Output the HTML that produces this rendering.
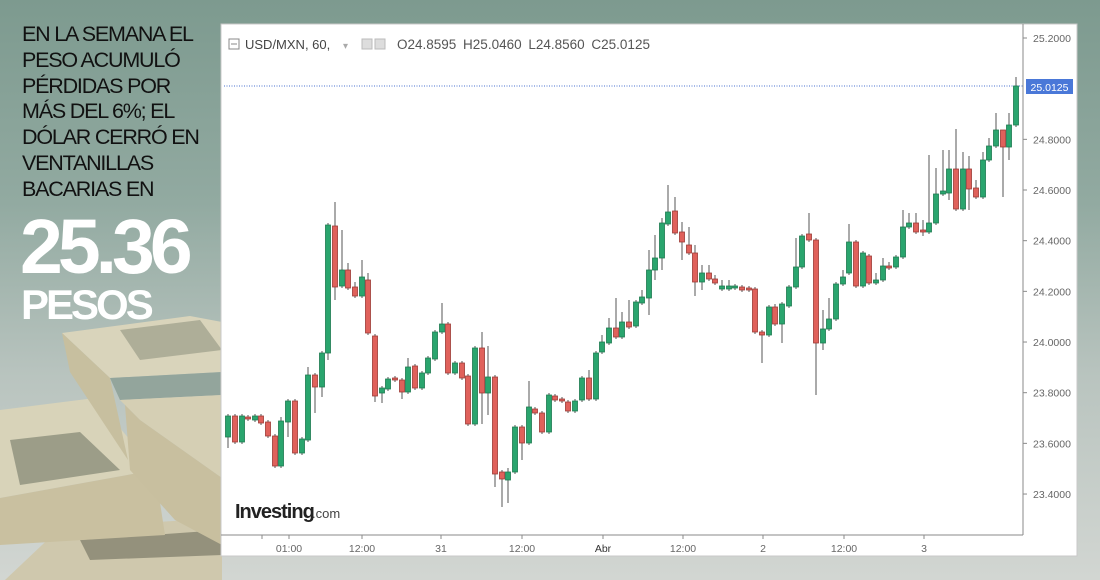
<!DOCTYPE html>
<html><head><meta charset="utf-8"><style>
html,body{margin:0;padding:0;}
body{width:1100px;height:580px;overflow:hidden;position:relative;background:linear-gradient(180deg,#7d9a8f 0%,#92aaa1 35%,#b9c4bf 65%,#d2d6d2 100%);font-family:"Liberation Sans",sans-serif;}
.txt{position:absolute;left:22px;top:22px;color:#111;font-size:21.5px;line-height:25.8px;letter-spacing:-1.2px;}
.big{position:absolute;left:20px;top:207px;color:#fff;font-weight:bold;font-size:77px;letter-spacing:-5px;line-height:80px;}
.pes{position:absolute;left:21px;top:283px;color:#fff;font-weight:bold;font-size:42px;letter-spacing:-3px;line-height:44px;}
svg{position:absolute;left:0;top:0;}
</style></head><body>
<svg width="1100" height="580">
 <polygon points="5,580 60,528 222,518 222,580" fill="#cfc8ad"/>
 <polygon points="80,540 222,530 222,555 90,560" fill="#6d6c5c" opacity="0.6"/>
 <polygon points="0,410 95,398 155,470 0,498" fill="#d8d3b9"/>
 <polygon points="0,498 155,470 165,535 0,545" fill="#c9c0a0"/>
 <polygon points="10,440 80,432 120,470 20,485" fill="#5f6858" opacity="0.5"/>
 <polygon points="62,333 190,316 222,322 222,372 110,378" fill="#d9d4bb"/>
 <polygon points="62,333 110,378 128,460 70,372" fill="#c7bf9f"/>
 <polygon points="110,378 222,372 222,395 120,400" fill="#93a59c"/>
 <polygon points="120,400 222,395 222,478 140,420" fill="#d5cfb4"/>
 <polygon points="125,405 140,420 222,478 222,545 175,520 130,470" fill="#c8bf9f"/>
 <polygon points="120,330 200,320 222,350 140,360" fill="#5f6858" opacity="0.35"/>
 <rect x="221" y="24" width="856" height="532" fill="#fff" stroke="#c8c8c8"/>
 <line x1="1023" y1="24" x2="1023" y2="535" stroke="#8a8a8a"/>
 <line x1="221" y1="535" x2="1023" y2="535" stroke="#8a8a8a"/>
 <line x1="224" y1="86" x2="1023" y2="86" stroke="#4a72d0" stroke-dasharray="1,1.5"/>
 <rect x="1026" y="79" width="47" height="15" fill="#4a78d8"/>
 <text x="1049.5" y="91" font-size="10.5" fill="#fff" text-anchor="middle" font-family="Liberation Sans">25.0125</text>
 <g font-size="10.5" fill="#666" font-family="Liberation Sans" id="yl"></g>
 <g font-size="10.5" fill="#666" font-family="Liberation Sans" text-anchor="middle">
  <text x="289" y="552">01:00</text><text x="362" y="552">12:00</text><text x="441" y="552">31</text>
  <text x="522" y="552">12:00</text><text x="603" y="552" fill="#333">Abr</text><text x="683" y="552">12:00</text>
  <text x="763" y="552">2</text><text x="844" y="552">12:00</text><text x="924" y="552">3</text>
 </g>
 <g stroke="#8a8a8a">
  <line x1="262" y1="535" x2="262" y2="539"/><line x1="289" y1="535" x2="289" y2="539"/><line x1="362" y1="535" x2="362" y2="539"/><line x1="441" y1="535" x2="441" y2="539"/><line x1="522" y1="535" x2="522" y2="539"/><line x1="603" y1="535" x2="603" y2="539"/><line x1="683" y1="535" x2="683" y2="539"/><line x1="763" y1="535" x2="763" y2="539"/><line x1="844" y1="535" x2="844" y2="539"/><line x1="924" y1="535" x2="924" y2="539"/>
 </g>
 <rect x="229" y="39" width="10" height="10" fill="none" stroke="#888"/>
 <line x1="231" y1="44" x2="237" y2="44" stroke="#888"/>
 <text x="245" y="49" font-size="13" fill="#444" font-family="Liberation Sans">USD/MXN, 60,</text>
 <text x="343" y="49" font-size="10" fill="#aaa">▾</text>
 <rect x="362" y="39" width="10" height="10" fill="#ddd" stroke="#bbb"/><rect x="375" y="39" width="10" height="10" fill="#ddd" stroke="#bbb"/>
 <text x="397" y="49" font-size="13.5" fill="#555" font-family="Liberation Sans" word-spacing="3">O24.8595 H25.0460 L24.8560 C25.0125</text>
 <text x="235" y="518" font-size="20" font-weight="bold" fill="#222" letter-spacing="-1" font-family="Liberation Sans">Investing</text>
 <text x="312" y="518" font-size="13" fill="#444" font-family="Liberation Sans">.com</text>
 <g id="c"></g>
</svg>
<div class="txt">EN LA SEMANA EL<br>PESO ACUMULÓ<br>PÉRDIDAS POR<br>MÁS DEL 6%; EL<br>DÓLAR CERRÓ EN<br>VENTANILLAS<br>BACARIAS EN</div>
<div class="big">25.36</div>
<div class="pes">PESOS</div>
<script>
var NS="http://www.w3.org/2000/svg";
function el(t,a,p){var e=document.createElementNS(NS,t);for(var k in a)e.setAttribute(k,a[k]);p.appendChild(e);return e;}
var yl=document.getElementById('yl');
var labs=["25.2000",null,"24.8000","24.6000","24.4000","24.2000","24.0000","23.8000","23.6000","23.4000"];
for(var i=0;i<labs.length;i++){if(!labs[i])continue;var y=38+i*50.67;el('text',{x:1033,y:y+4},yl).textContent=labs[i];el('line',{x1:1023,y1:y,x2:1027,y2:y,stroke:'#8a8a8a'},yl.parentNode);}
var D=[
[228,416,437,'g',414,448],[235,416,442,'r'],[242,416,442,'g'],[248,417,419,'r'],[255,416,420,'g'],[261,416,423,'r'],[268,422,436,'r'],[275,436,466,'r'],[281,421,466,'g',417],[288,401,422,'g',399,437],[295,401,453,'r'],[302,439,453,'g'],[308,375,440,'g',367],[315,375,387,'r',373,413],[322,353,387,'g',351,397],[328,225,353,'g',223,360],[335,226,287,'r',202,300],[342,270,286,'g',230],[348,270,288,'r',263],[355,287,296,'r',282],[362,277,296,'g',260],[368,280,333,'r',273],[375,336,396,'r',334,402],[382,388,393,'g',386,403],[388,379,389,'g',377],[395,378,380,'r'],[402,380,392,'r',378,399],[408,367,392,'g',358],[415,366,388,'r'],[422,373,388,'g'],[428,358,373,'g'],[435,332,359,'g'],[442,324,332,'g',303],[448,324,373,'r'],[455,363,373,'g'],[462,363,378,'r'],[468,376,424,'r'],[475,348,424,'g'],[482,348,393,'r',332,424],[488,377,393,'g',346,415],[495,377,474,'r',375,487],[502,472,479,'r',470,507],[508,472,480,'g',468,503],[515,427,472,'g'],
[522,427,443,'r',425,460],[529,407,443,'g',381],[535,409,413,'r'],[542,413,432,'r'],[549,395,432,'g'],[555,396,400,'r'],[562,399,401,'r'],[568,402,411,'r'],[575,401,411,'g'],[582,378,400,'g'],[589,378,399,'r',370],[596,353,399,'g'],[602,342,352,'g',335],[609,328,343,'g',318],[616,328,337,'r',298],[622,322,337,'g',312],[629,322,327,'r',300],[636,302,326,'g'],[642,297,303,'g',290],[649,270,298,'g',250,315],[655,258,270,'g',235,280],[662,223,258,'g',218,270],[668,212,224,'g',185],[675,211,233,'r',197],[682,232,242,'r',222,260],[689,245,253,'r',227],[695,253,282,'r',245,296],[702,273,282,'g',265,290],[709,273,279,'r',265],[715,279,283,'r',275],[722,286,289,'g',280],[729,286,289,'g',280],[735,286,288,'g'],[742,287,290,'r'],[749,288,290,'r'],[755,289,332,'r'],[762,332,335,'r',330,363],[769,307,335,'g'],[775,307,324,'r',304],[782,304,324,'g',302,343],
[789,287,306,'g'],[796,267,287,'g',238],[802,236,267,'g',234],[809,234,240,'r',213],[816,240,343,'r',238,395],[823,329,343,'g',310,350],[829,319,329,'g',298],[836,284,319,'g'],[843,277,284,'g',270],[849,242,273,'g',224],[856,242,286,'r',240,288],[863,253,286,'g'],[869,256,283,'r'],[876,280,283,'g',273,285],[883,266,280,'g',258],[889,266,268,'r',262],[896,257,267,'g'],[903,227,257,'g',210],[909,223,227,'g',213],[916,223,232,'r',213],[923,230,232,'r',220,236],[929,223,232,'g',155],[936,194,223,'g',168],[943,191,194,'g',150],[949,169,193,'g',150,200],[956,169,209,'r',129],[963,169,209,'g',152],[969,169,189,'r',156,210],[976,188,197,'r',180],[983,160,197,'g',152],[989,146,160,'g',138],[996,130,146,'g',113],[1003,130,147,'r',130,197],[1009,125,147,'g',113,160],[1016,86,125,'g',77]
];
var g=document.getElementById('c');
D.forEach(function(d){var x=d[0],t=d[1],b=d[2],gr=d[3]=='g';var wt=d[4]||t-2,wb=d[5]||b+2;
var col=gr?'#2aa56e':'#e0615b',st=gr?'#1d7a4f':'#9c3a35';
el('line',{x1:x,y1:wt,x2:x,y2:wb,stroke:'#555','stroke-width':1},g);
el('rect',{x:x-2.5,y:t,width:5,height:Math.max(b-t,1.5),fill:col,stroke:st,'stroke-width':0.8},g);});
</script>
</body></html>
